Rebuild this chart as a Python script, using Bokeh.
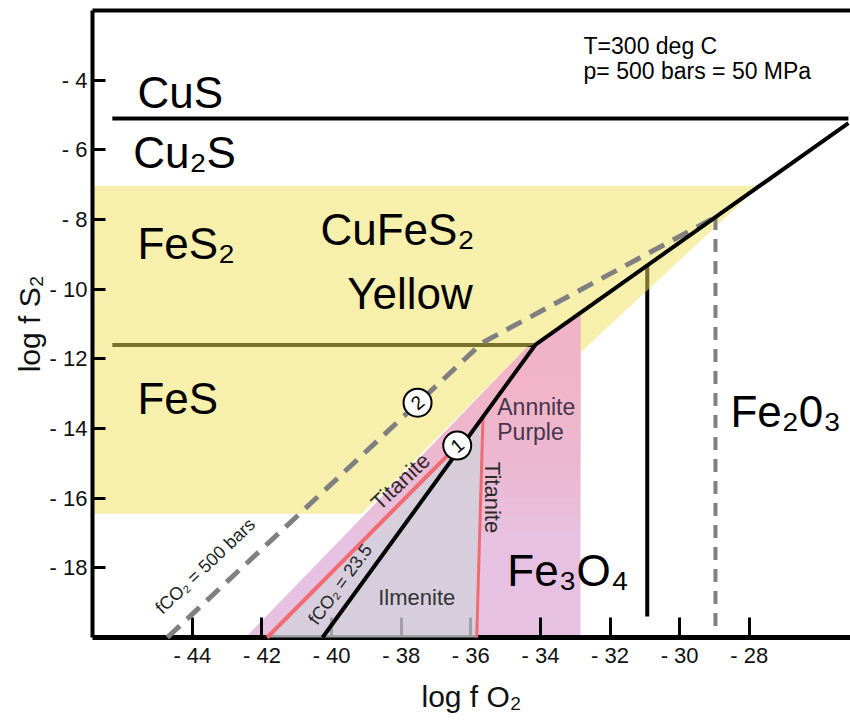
import numpy as np
from bokeh.plotting import figure
from bokeh.models import Range1d, FixedTicker, LinearAxis
from bokeh.core.properties import value
from bokeh.embed import file_html
from bokeh.resources import INLINE

FONT = "Liberation Sans"

# ---------------- data (log fO2, log fS2) ----------------
x_ticks = [-44, -42, -40, -38, -36, -34, -32, -30, -28]
x_tick_labels = ["- 44", "- 42", "- 40", "- 38", "- 36", "- 34", "- 32", "- 30", "- 28"]
y_ticks = [-18, -16, -14, -12, -10, -8, -6, -4]
y_tick_labels = ["- 18", "- 16", "- 14", "- 12", "- 10", "- 8", "- 6", "- 4"]

# phase boundaries
cus_cu2s_x = [-46.3, -25.15]
cus_cu2s_y = [-5.1, -5.1]
py_po_x = [-46.3, -34.14]
py_po_y = [-11.6, -11.6]
main_x = [-40.26, -34.14, -25.15]
main_y = [-20.0, -11.59, -5.23]
mt_hm_x = [-30.93, -30.93]
mt_hm_y = [-9.32, -19.4]
co2_500_x = [-44.72, -35.67, -28.97]
co2_500_y = [-20.0, -11.54, -7.93]
mt_hm_500_x = [-28.97, -28.97]
mt_hm_500_y = [-7.93, -19.85]
titanite_a_x = [-41.85, -36.39]
titanite_a_y = [-20.0, -14.49]
titanite_b_x = [-35.65, -35.83]
titanite_b_y = [-13.67, -20.0]

# fields
yellow_x = [-47.0, -27.7, -32.85, -32.85, -34.14, -34.37, -39.14, -47.0]
yellow_y = [-7.03, -7.03, -11.82, -10.68, -11.59, -11.65, -16.45, -16.45]
pink_x = [-42.47, -34.37, -34.14, -32.85, -32.85]
pink_y = [-20.0, -11.65, -11.59, -10.68, -20.0]
ilm_x = [-41.85, -36.39, -35.65, -35.83]
ilm_y = [-20.0, -14.49, -13.67, -20.0]

# numbered points
pt_x = [-36.39, -37.53]
pt_y = [-14.49, -13.26]
pt_labels = ["1", "2"]

# ---------------- figure ----------------
X0, X1, Y0, Y1 = -46.87, -25.09, -20.0, -2.0
W, H = 850, 721
BL, BT, BB = 92, 10, 84
PX_PER_Y = (H - BT - BB) / (Y1 - Y0)

p = figure(width=W, height=H,
           x_range=Range1d(X0, X1), y_range=Range1d(Y0, Y1),
           output_backend="svg", toolbar_location=None,
           min_border_left=BL, min_border_right=0,
           min_border_top=BT, min_border_bottom=BB)
p.outline_line_color = None
p.grid.visible = False

xa = p.xaxis[0]
ya = p.yaxis[0]
xa.ticker = FixedTicker(ticks=x_ticks)
ya.ticker = FixedTicker(ticks=y_ticks)
xa.major_label_overrides = dict(zip(x_ticks, x_tick_labels))
ya.major_label_overrides = dict(zip(y_ticks, y_tick_labels))
for ax in (xa, ya):
    ax.major_tick_out = 0
    ax.minor_tick_out = 0
    ax.minor_tick_in = 0
    ax.minor_tick_line_color = None
    ax.major_tick_line_width = 3
    ax.major_tick_line_color = "black"
    ax.axis_line_width = 4
    ax.axis_line_color = "black"
    ax.major_label_text_font = FONT
    ax.major_label_text_font_size = "22px"
    ax.major_label_text_color = "#111111"
    ax.axis_label_text_font = FONT
    ax.axis_label_text_font_style = "normal"
    ax.axis_label_text_font_size = "30px"
    ax.axis_label_text_color = "#111111"
xa.major_tick_in = 20
ya.major_tick_in = 13
xa.major_label_standoff = 5
ya.major_label_standoff = 5
xa.axis_label = "log f O₂"
ya.axis_label = "log f S₂"
xa.axis_label_standoff = 9
ya.axis_label_standoff = 1
xa.axis_line_width = 5

top = LinearAxis(ticker=FixedTicker(ticks=[]), axis_line_width=4,
                 major_tick_in=0, major_tick_out=0, minor_tick_in=0, minor_tick_out=0,
                 major_label_text_font_size="0px", major_label_standoff=0)
p.add_layout(top, "above")

# ---------------- fields ----------------
p.patch(pink_x, pink_y, fill_color="#e6c1e1", line_color=None)
# pinker toward the top of the field
band_levels = np.arange(-17.0, -12.4, 0.5)
left_y = pink_y[:2]
left_x = pink_x[:2]
for L in band_levels:
    xl = float(np.interp(L, left_y, left_x))
    bx = [xl] + pink_x[1:4] + [pink_x[4]]
    by = [float(L)] + pink_y[1:4] + [float(L)]
    p.patch(bx, by, fill_color="#f8aec2", fill_alpha=0.13, line_color=None)

p.line(py_po_x, py_po_y, line_color="black", line_width=4)
p.line(mt_hm_x, mt_hm_y, line_color="black", line_width=4)
p.patch(yellow_x, yellow_y, fill_color="#f0e05a", fill_alpha=0.5, line_color=None)

# Ilmenite field drawn above the axis ticks
p.patch(ilm_x, ilm_y, fill_color="#d2d2dc", fill_alpha=0.76, line_color=None, level="overlay")

# ---------------- boundaries ----------------
OV = "overlay"
p.line(cus_cu2s_x, cus_cu2s_y, line_color="black", line_width=4, level=OV)
p.line(co2_500_x, co2_500_y, line_color="#808080", line_width=5, line_dash="17 10", level=OV)
p.line(mt_hm_500_x, mt_hm_500_y, line_color="#808080", line_width=4, line_dash="13 9", level=OV)
p.line(titanite_a_x, titanite_a_y, line_color="#f06b72", line_width=4, level=OV)
p.line(titanite_b_x, titanite_b_y, line_color="#f06b72", line_width=3, level=OV)
p.line(main_x, main_y, line_color="black", line_width=4, level=OV)

p.scatter(pt_x, pt_y, marker="circle", size=28, fill_color="white",
          line_color="black", line_width=2, level=OV)
p.text(pt_x, pt_y, text=pt_labels, text_font=value(FONT), text_font_size="19px",
       text_align="center", text_baseline="middle", angle=0.7, level=OV)


def label(x, y, t, size, color="black", angle=0.0, align="left", baseline="alphabetic"):
    if baseline == "alphabetic":
        # the drawn baseline falls ~0.32 em below the anchor; lift the anchor
        y = y + 0.32 * size / PX_PER_Y
    p.text([x], [y], text=[t], text_font=value(FONT), text_font_size=f"{size}px",
           text_color=color, angle=angle, text_align=align, text_baseline=baseline,
           level=OV)


BIG = 44
label(-45.58, -4.745, "CuS", BIG)
label(-45.70, -6.49, "Cu₂S", BIG)
label(-45.58, -9.10, "FeS₂", BIG)
label(-40.32, -8.70, "CuFeS₂", BIG)
label(-39.55, -10.53, "Yellow", BIG)
label(-45.58, -13.54, "FeS", BIG)
label(-34.95, -18.47, "Fe₃O₄", BIG)
label(-28.54, -13.91, "Fe₂0₃", BIG)

label(-32.76, -3.23, "T=300 deg C", 23)
label(-32.76, -3.94, "p= 500 bars = 50 MPa", 23)

label(-35.24, -13.60, "Annnite", 23, color="#46344c")
label(-35.24, -14.32, "Purple", 23, color="#46344c")
label(-38.66, -19.04, "Ilmenite", 22, color="#333333")
label(-38.02, -15.52, "Titanite", 22, color="#2a2a2a", angle=0.76,
      align="center", baseline="middle")
label(-35.38, -15.98, "Titanite", 22, color="#2a2a2a", angle=-np.pi / 2,
      align="center", baseline="middle")
label(-39.75, -18.47, "fCO₂ = 23.5", 18, color="#222222", angle=0.94,
      align="center", baseline="middle")
label(-43.63, -17.95, "fCO₂ = 500 bars", 18, color="#222222", angle=0.76,
      align="center", baseline="middle")

open("out.html", "w").write(file_html(p, INLINE))
